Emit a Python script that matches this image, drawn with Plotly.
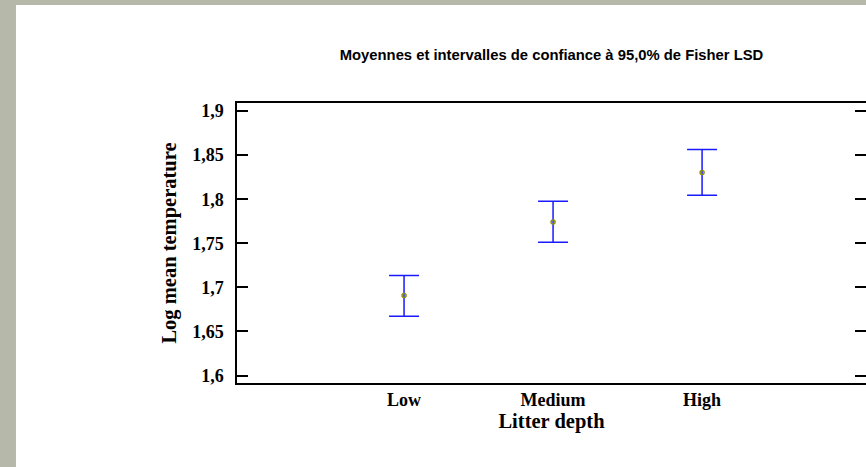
import plotly.graph_objects as go

# ── Data ──────────────────────────────────────────────────────────────────────
categories = ["Low", "Medium", "High"]
means = [1.6908, 1.7742, 1.8304]
lower = [1.6672, 1.7512, 1.8044]
upper = [1.7135, 1.7976, 1.8564]

y_tickvals = [1.6, 1.65, 1.7, 1.75, 1.8, 1.85, 1.9]
y_ticktext = ["1,6", "1,65", "1,7", "1,75", "1,8", "1,85", "1,9"]

err_plus = [u - m for u, m in zip(upper, means)]
err_minus = [m - l for m, l in zip(means, lower)]

serif = "Liberation Serif, Times New Roman, serif"

# ── Figure ────────────────────────────────────────────────────────────────────
fig = go.Figure()

fig.add_trace(go.Scatter(
    x=[0, 1, 2],
    y=means,
    mode="markers",
    marker=dict(symbol="circle-open", size=4, color="#8f8f10",
                line=dict(width=1.5, color="#8f8f10")),
    error_y=dict(type="data", symmetric=False, array=err_plus,
                 arrayminus=err_minus, color="#1a1aff", thickness=1.5,
                 width=15),
    showlegend=False,
))

# invisible trace carrying the right-hand ticks
fig.add_trace(go.Scatter(x=[0], y=[means[0]], yaxis="y2", mode="markers",
                         marker=dict(opacity=0), showlegend=False,
                         hoverinfo="skip"))

fig.update_layout(
    width=866,
    height=467,
    paper_bgcolor="#b6b9a9",
    plot_bgcolor="white",
    margin=dict(l=237, r=0, t=103, b=84),
    title=dict(
        text="Moyennes et intervalles de confiance à 95,0% de Fisher LSD",
        font=dict(family="Arial, Liberation Sans, sans-serif", size=14.8,
                  color="black", weight="bold"),
        x=0.5, xref="paper", xanchor="center",
        y=1 - 55 / 467, yref="container", yanchor="middle",
    ),
    xaxis=dict(
        range=[-1.121, 3.1],
        tickvals=[0, 1, 2],
        ticktext=categories,
        ticks="",
        showgrid=False,
        zeroline=False,
        showline=True,
        mirror=True,
        linecolor="black",
        linewidth=1.5,
        tickfont=dict(family=serif, size=18, color="black", weight="bold"),
        title=dict(text="Litter depth", standoff=2,
                   font=dict(family=serif, size=20.5, color="black",
                             weight="bold")),
    ),
    yaxis=dict(
        range=[1.5915, 1.9092],
        tickvals=y_tickvals,
        ticktext=y_ticktext,
        ticks="inside",
        ticklen=11,
        tickwidth=1.5,
        tickcolor="black",
        ticklabelstandoff=8,
        showgrid=False,
        zeroline=False,
        showline=True,
        linecolor="black",
        linewidth=1.5,
        tickfont=dict(family=serif, size=18, color="black", weight="bold"),
        title=dict(text="Log mean temperature", standoff=10,
                   font=dict(family=serif, size=20.5, color="black",
                             weight="bold")),
    ),
    yaxis2=dict(
        overlaying="y",
        side="right",
        range=[1.5915, 1.9092],
        tickvals=y_tickvals,
        showticklabels=False,
        ticks="inside",
        ticklen=11,
        tickwidth=1.5,
        tickcolor="black",
        showgrid=False,
        zeroline=False,
        showline=False,
    ),
    shapes=[dict(
        type="rect", xref="paper", yref="paper",
        x0=-0.3514, x1=1.01, y0=-0.31, y1=1.35,
        fillcolor="white", line=dict(width=0), layer="below",
    )],
)

fig.write_html("out.html", config={"displayModeBar": False},
               post_script="document.body.style.margin='0';")
